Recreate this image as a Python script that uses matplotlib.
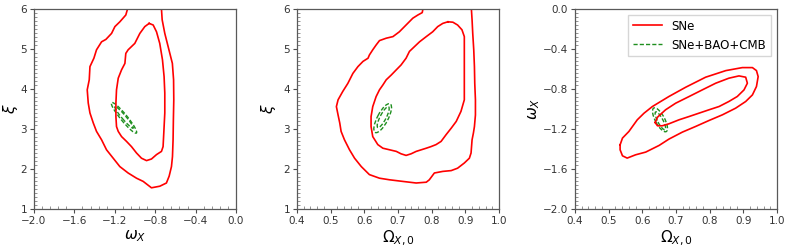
import matplotlib
matplotlib.use("Agg")
import matplotlib.pyplot as plt
from matplotlib.ticker import AutoMinorLocator
from matplotlib.path import Path
from matplotlib.patches import PathPatch
from matplotlib.transforms import Affine2D
from matplotlib.lines import Line2D

# ---------------- data ----------------
# Panel 1: omega_X vs xi, SNe contours
p1_outer_x = [-1.074, -1.091, -1.150, -1.199, -1.232, -1.288, -1.331, -1.381, -1.407, -1.446,
              -1.453, -1.473, -1.463, -1.446, -1.413, -1.381, -1.331, -1.282, -1.216, -1.150,
              -1.068, -0.985, -0.919, -0.837, -0.754, -0.689, -0.662, -0.639, -0.629, -0.623,
              -0.620, -0.616, -0.618, -0.630, -0.672, -0.705, -0.731, -0.738]
p1_outer_y = [6.00, 5.85, 5.68, 5.56, 5.39, 5.24, 5.18, 4.98, 4.77, 4.56,
              4.23, 3.98, 3.65, 3.40, 3.15, 2.94, 2.73, 2.48, 2.27, 2.06,
              1.90, 1.77, 1.69, 1.53, 1.57, 1.65, 1.82, 2.06, 2.31, 2.73,
              3.23, 3.73, 4.23, 4.64, 5.06, 5.39, 5.73, 6.00]
p1_inner_x = [-0.860, -0.903, -0.952, -1.002, -1.068, -1.091, -1.100, -1.133, -1.166, -1.183,
              -1.189, -1.189, -1.183, -1.166, -1.133, -1.084, -1.035, -0.985, -0.936, -0.886,
              -0.837, -0.787, -0.738, -0.722, -0.715, -0.705, -0.705, -0.712, -0.728, -0.755,
              -0.787, -0.820, -0.860]
p1_inner_y = [5.64, 5.56, 5.39, 5.14, 4.98, 4.89, 4.64, 4.48, 4.27, 3.98,
              3.65, 3.31, 3.06, 2.94, 2.81, 2.69, 2.56, 2.40, 2.27, 2.21,
              2.25, 2.36, 2.44, 2.56, 2.90, 3.40, 3.90, 4.31, 4.73, 5.14,
              5.43, 5.60, 5.64]
# SNe+BAO+CMB ellipses: centre, semi-axis vector a, semi-axis vector b (data units)
p1_ell_outer = [(-1.109, 3.280), (0.1229, -0.380), (0.0257, 0.0527)]
p1_ell_inner = [(-1.109, 3.292), (0.0906, -0.270), (0.0150, 0.0320)]

# Panel 2: Omega_X0 vs xi
p2_outer_x = [0.774, 0.772, 0.759, 0.744, 0.724, 0.704, 0.685, 0.665, 0.645, 0.635,
              0.625, 0.615, 0.611, 0.596, 0.581, 0.566, 0.551, 0.536, 0.522, 0.517,
              0.522, 0.527, 0.531, 0.541, 0.556, 0.571, 0.591, 0.615, 0.645, 0.675,
              0.714, 0.754, 0.784, 0.793, 0.808, 0.833, 0.858, 0.877, 0.897, 0.912,
              0.917, 0.920, 0.924, 0.927, 0.930, 0.930, 0.928, 0.927, 0.925, 0.922,
              0.920, 0.918]
p2_outer_y = [6.00, 5.91, 5.85, 5.77, 5.60, 5.43, 5.31, 5.27, 5.21, 5.10,
              4.98, 4.85, 4.77, 4.69, 4.56, 4.39, 4.14, 3.94, 3.73, 3.56,
              3.35, 3.15, 2.94, 2.73, 2.48, 2.27, 2.06, 1.86, 1.77, 1.73,
              1.69, 1.65, 1.67, 1.73, 1.90, 1.94, 1.96, 2.02, 2.15, 2.27,
              2.40, 2.73, 2.90, 3.06, 3.35, 3.73, 4.14, 4.56, 4.98, 5.39,
              5.73, 6.00]
p2_inner_x = [0.848, 0.833, 0.818, 0.803, 0.784, 0.764, 0.749, 0.734, 0.724, 0.709,
              0.695, 0.680, 0.665, 0.655, 0.645, 0.635, 0.625, 0.620, 0.620, 0.625,
              0.640, 0.655, 0.675, 0.695, 0.709, 0.724, 0.739, 0.754, 0.769, 0.784,
              0.798, 0.813, 0.828, 0.843, 0.858, 0.873, 0.887, 0.897, 0.897, 0.897,
              0.897, 0.897, 0.890, 0.877, 0.863, 0.848]
p2_inner_y = [5.68, 5.64, 5.56, 5.43, 5.31, 5.18, 5.06, 4.94, 4.77, 4.60,
              4.48, 4.35, 4.23, 4.10, 3.98, 3.81, 3.56, 3.31, 3.06, 2.81,
              2.61, 2.52, 2.48, 2.44, 2.38, 2.34, 2.38, 2.44, 2.48, 2.52,
              2.56, 2.61, 2.69, 2.86, 3.02, 3.19, 3.44, 3.73, 4.14, 4.56,
              4.98, 5.31, 5.48, 5.60, 5.67, 5.68]
p2_ell_outer = [(0.6545, 3.271), (0.0222, 0.358), (0.0140, -0.0616)]
p2_ell_inner = [(0.656, 3.296), (0.0160, 0.258), (0.0079, -0.0349)]

# Panel 3: Omega_X0 vs omega_X
p3_outer_x = [0.534, 0.541, 0.560, 0.585, 0.605, 0.630, 0.679, 0.729, 0.788, 0.848,
              0.897, 0.927, 0.939, 0.944, 0.939, 0.927, 0.907, 0.877, 0.838, 0.798,
              0.758, 0.719, 0.679, 0.650, 0.610, 0.580, 0.555, 0.541, 0.534, 0.534]
p3_outer_y = [-1.358, -1.291, -1.225, -1.108, -1.042, -0.975, -0.875, -0.782, -0.682, -0.616,
              -0.586, -0.586, -0.616, -0.676, -0.775, -0.859, -0.925, -0.992, -1.058, -1.115,
              -1.175, -1.231, -1.301, -1.364, -1.431, -1.458, -1.491, -1.468, -1.408, -1.358]
p3_inner_x = [0.638, 0.645, 0.669, 0.699, 0.739, 0.778, 0.818, 0.857, 0.887, 0.907,
              0.912, 0.902, 0.882, 0.857, 0.828, 0.798, 0.768, 0.739, 0.709, 0.679,
              0.659, 0.645, 0.638]
p3_inner_y = [-1.135, -1.082, -1.008, -0.942, -0.875, -0.809, -0.742, -0.692, -0.669, -0.682,
              -0.742, -0.809, -0.875, -0.925, -0.975, -1.008, -1.042, -1.075, -1.108, -1.148,
              -1.168, -1.168, -1.135]
p3_ell_outer = [(0.6525, -1.108), (0.0185, -0.1178), (0.0123, 0.0218)]
p3_ell_inner = [(0.6535, -1.118), (0.0139, -0.0885), (0.0070, 0.0124)]

x_ticks = [[-2.0, -1.6, -1.2, -0.8, -0.4, 0.0],
           [0.4, 0.5, 0.6, 0.7, 0.8, 0.9, 1.0],
           [0.4, 0.5, 0.6, 0.7, 0.8, 0.9, 1.0]]
y_ticks = [[1, 2, 3, 4, 5, 6],
           [1, 2, 3, 4, 5, 6],
           [-2.0, -1.6, -1.2, -0.8, -0.4, 0.0]]
x_labels = [r'$\omega_X$', r'$\Omega_{X,0}$', r'$\Omega_{X,0}$']
y_labels = [r'$\xi$', r'$\xi$', r'$\omega_X$']
legend_labels = ['SNe', 'SNe+BAO+CMB']

# ---------------- drawing ----------------
RED = 'red'
GREEN = '#1f8f1f'
DASH = (0, (3, 1.5))

fig = plt.figure(figsize=(7.89, 2.47), dpi=100)
lefts = [34 / 789, 297 / 789, 575 / 789]
W, H = 202 / 789, 200 / 247
B = 38 / 247
ylabel_x = [-0.07, -0.095, -0.165]


def ellipse(ax, spec):
    (cx, cy), (ax_, ay_), (bx_, by_) = spec
    tr = Affine2D.from_values(ax_, ay_, bx_, by_, cx, cy) + ax.transData
    patch = PathPatch(Path.unit_circle(), transform=tr, fill=False,
                      edgecolor=GREEN, lw=1.0, ls=DASH)
    ax.add_patch(patch)


panels = [
    (p1_outer_x, p1_outer_y, p1_inner_x, p1_inner_y, p1_ell_outer, p1_ell_inner),
    (p2_outer_x, p2_outer_y, p2_inner_x, p2_inner_y, p2_ell_outer, p2_ell_inner),
    (p3_outer_x, p3_outer_y, p3_inner_x, p3_inner_y, p3_ell_outer, p3_ell_inner),
]

for i, (ox, oy, ix, iy, eo, ei) in enumerate(panels):
    ax = fig.add_axes([lefts[i], B, W, H])
    ax.plot(ox, oy, color=RED, lw=1.2)
    ax.plot(ix, iy, color=RED, lw=1.2)
    ellipse(ax, eo)
    ellipse(ax, ei)
    ax.set_xlim(x_ticks[i][0], x_ticks[i][-1])
    ax.set_ylim(y_ticks[i][0], y_ticks[i][-1])
    ax.set_xticks(x_ticks[i])
    ax.set_yticks(y_ticks[i])
    ax.set_xticklabels([f'{v:.1f}'.replace('-', '\u2212') for v in x_ticks[i]])
    if i < 2:
        ax.set_yticklabels([f'{v:d}' for v in y_ticks[i]])
    else:
        ax.set_yticklabels([f'{v:.1f}'.replace('-', '\u2212') for v in y_ticks[i]])
    ax.xaxis.set_minor_locator(AutoMinorLocator(5))
    ax.yaxis.set_minor_locator(AutoMinorLocator(10))
    ax.tick_params(which='major', direction='out', length=3, width=0.8,
                   labelsize=7.5, colors='0.3', labelcolor='0.2', pad=2)
    ax.tick_params(which='minor', direction='in', length=2, width=0.5, colors='0.4')
    for s in ax.spines.values():
        s.set_color('0.35')
        s.set_linewidth(0.9)
    ax.set_xlabel(x_labels[i], fontsize=11, labelpad=2)
    ax.set_ylabel(y_labels[i], fontsize=11)
    ax.yaxis.set_label_coords(ylabel_x[i], 0.5)
    if i == 2:
        h1 = Line2D([], [], color=RED, lw=1.2)
        h2 = Line2D([], [], color=GREEN, lw=1.0, ls=DASH)
        ax.legend([h1, h2], legend_labels, loc='upper right', fontsize=8.5,
                  frameon=True, fancybox=False, edgecolor='0.8',
                  handlelength=2.5, borderaxespad=0.5)

fig.savefig('out.png', dpi=100)
